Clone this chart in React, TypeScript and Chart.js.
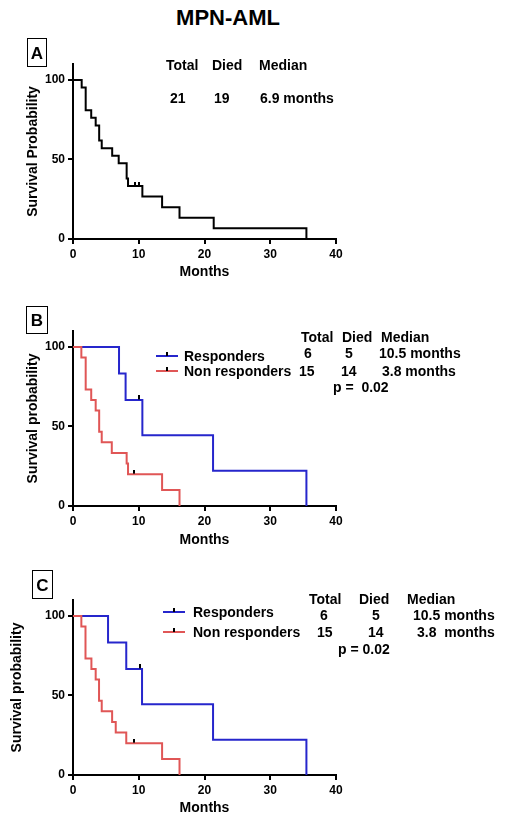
import React, { useEffect, useRef } from "react";
import { Chart, registerables } from "chart.js";
Chart.register(...registerables);

const FONT = "'Liberation Sans', Arial, Helvetica, sans-serif";
const BLUE = "#2626cc";
const RED = "#e05656";
const BLACK = "#000000";

const monthTicks = [0, 10, 20, 30, 40];
const survivalTicks = [0, 50, 100];

// Panel A – all patients
const allMonths = [0, 1.32, 1.93, 2.77, 3.45, 3.98, 4.37, 5.96, 6.95, 8.16, 8.37, 10.55, 13.55, 16.2, 21.4, 35.5];
const allSurvival = [100, 95.2, 81.0, 76.2, 71.4, 61.9, 57.1, 52.4, 47.6, 38.1, 33.3, 26.7, 20.0, 13.3, 6.7, 0];
const allCensorMonths = [9.4, 10.1];
const allCensorSurvival = [33.3, 33.3];

// Panel B
const respBMonths = [0, 7.0, 8.0, 10.55, 21.3, 35.5];
const respBSurvival = [100, 83.3, 66.7, 44.4, 22.2, 0];
const respBCensorMonths = [10.1];
const respBCensorSurvival = [66.7];
const nonBMonths = [0, 1.27, 1.93, 2.77, 3.45, 3.98, 4.37, 5.9, 8.16, 8.37, 13.55, 16.2];
const nonBSurvival = [100, 93.3, 73.3, 66.7, 60.0, 46.7, 40.0, 33.3, 26.7, 20.0, 10.0, 0];
const nonBCensorMonths = [9.24];
const nonBCensorSurvival = [20.0];

// Panel C
const respCMonths = [0, 5.33, 8.1, 10.5, 21.3, 35.5];
const respCSurvival = [100, 83.3, 66.7, 44.4, 22.2, 0];
const respCCensorMonths = [10.15];
const respCCensorSurvival = [66.7];
const nonCMonths = [0, 1.27, 1.9, 2.8, 3.45, 3.96, 4.37, 5.95, 6.5, 8.1, 13.55, 16.2];
const nonCSurvival = [100, 93.3, 73.3, 66.7, 60.0, 46.7, 40.0, 33.3, 26.7, 20.0, 10.0, 0];
const nonCCensorMonths = [9.3];
const nonCCensorSurvival = [20.0];

const CANVAS_W = 350;
const PLOT_LEFT = 73;
const PLOT_RIGHT = 336;

type Series = {
  months: number[];
  survival: number[];
  censorMonths: number[];
  censorSurvival: number[];
  color: string;
};

type PanelProps = {
  top: number;
  height: number;
  plotTop: number;
  plotBottom: number;
  yTitle: string;
  yTitlePad: number;
  xTitlePad: number;
  series: Series[];
};

function makeTick(): HTMLCanvasElement {
  const c = document.createElement("canvas");
  c.width = 2;
  c.height = 9;
  const ctx = c.getContext("2d")!;
  ctx.fillStyle = BLACK;
  ctx.fillRect(0, 0, 2, 4);
  return c;
}

function Panel(p: PanelProps) {
  const ref = useRef<HTMLCanvasElement>(null);
  useEffect(() => {
    const canvas = ref.current!;
    const tick = makeTick();
    const datasets: any[] = [];
    p.series.forEach((s) => {
      datasets.push({
        type: "scatter",
        data: s.censorMonths.map((m, i) => ({ x: m, y: s.censorSurvival[i] })),
        pointStyle: tick,
        pointRadius: 3,
        showLine: false,
        order: 0,
      });
      datasets.push({
        type: "line",
        data: s.months.map((m, i) => ({ x: m, y: s.survival[i] })),
        borderColor: s.color,
        borderWidth: 2,
        stepped: "before",
        pointRadius: 0,
        fill: false,
        order: 1,
      });
    });
    const tickFont = { family: FONT, size: 12, weight: "bold" as const };
    const titleFont = { family: FONT, size: 14, weight: "bold" as const };
    const chart = new Chart(canvas, {
      type: "line",
      data: { datasets },
      options: {
        animation: false,
        responsive: false,
        devicePixelRatio: 1,
        events: [],
        layout: {
          padding: { left: 0, right: CANVAS_W - PLOT_RIGHT, top: p.plotTop - p.top, bottom: 0 },
        },
        plugins: { legend: { display: false }, tooltip: { enabled: false } },
        scales: {
          x: {
            type: "linear",
            min: 0,
            max: 40,
            afterBuildTicks: (s: any) => {
              s.ticks = monthTicks.map((v) => ({ value: v }));
            },
            afterFit: (s: any) => {
              s.height = p.top + p.height - p.plotBottom;
            },
            ticks: { font: tickFont, color: BLACK, padding: 3, maxRotation: 0, autoSkip: false },
            grid: { drawOnChartArea: false, drawTicks: true, tickLength: 5, color: BLACK, lineWidth: 2 },
            border: { display: true, color: BLACK, width: 2 },
            title: { display: true, text: "Months", font: titleFont, color: BLACK, padding: { top: 0, bottom: p.xTitlePad } },
          },
          y: {
            type: "linear",
            min: 0,
            max: 110,
            afterBuildTicks: (s: any) => {
              s.ticks = survivalTicks.map((v) => ({ value: v }));
            },
            afterFit: (s: any) => {
              s.width = PLOT_LEFT;
            },
            ticks: { font: tickFont, color: BLACK, padding: 3 },
            grid: { drawOnChartArea: false, drawTicks: true, tickLength: 5, color: BLACK, lineWidth: 2 },
            border: { display: true, color: BLACK, width: 2 },
            title: { display: true, text: p.yTitle, font: titleFont, color: BLACK, padding: { top: p.yTitlePad, bottom: 0 } },
          },
        },
      } as any,
    });
    return () => chart.destroy();
  }, []);
  return (
    <canvas
      ref={ref}
      width={CANVAS_W}
      height={p.height}
      style={{ position: "absolute", left: 0, top: p.top, width: CANVAS_W, height: p.height }}
    />
  );
}

function Txt({ x, y, s, size = 14, center = false }: { x: number; y: number; s: string; size?: number; center?: boolean }) {
  return (
    <div
      style={{
        position: "absolute",
        left: x,
        top: y,
        transform: center ? "translate(-50%,-50%)" : "translateY(-50%)",
        font: `bold ${size}px ${FONT}`,
        lineHeight: `${size}px`,
        whiteSpace: "pre",
        color: BLACK,
      }}
    >
      {s}
    </div>
  );
}

function Box({ x, y, w, h, s }: { x: number; y: number; w: number; h: number; s: string }) {
  return (
    <div
      style={{
        position: "absolute",
        left: x,
        top: y,
        width: w,
        height: h,
        boxSizing: "border-box",
        border: "1.5px solid #000",
        display: "flex",
        alignItems: "center",
        justifyContent: "center",
        font: `bold 17px ${FONT}`,
        color: BLACK,
        paddingTop: 2,
      }}
    >
      {s}
    </div>
  );
}

function LegendRow({ x, y, color, label, textX }: { x: number; y: number; color: string; label: string; textX: number }) {
  return (
    <>
      <div style={{ position: "absolute", left: x, top: y - 1, width: 22, height: 2, background: color }} />
      <div style={{ position: "absolute", left: x + 10, top: y - 4, width: 2, height: 4, background: BLACK }} />
      <Txt x={textX} y={y} s={label} />
    </>
  );
}

export default function App() {
  return (
    <div style={{ position: "fixed", left: 0, top: 0, width: 512, height: 826, background: "#fff", overflow: "hidden" }}>
      <Panel
        top={40}
        height={250}
        plotTop={64}
        plotBottom={239}
        yTitle="Survival Probability"
        yTitlePad={24.6}
        xTitlePad={9.6}
        series={[
          { months: allMonths, survival: allSurvival, censorMonths: allCensorMonths, censorSurvival: allCensorSurvival, color: BLACK },
        ]}
      />
      <Panel
        top={300}
        height={250}
        plotTop={331}
        plotBottom={506}
        yTitle="Survival probability"
        yTitlePad={24.6}
        xTitlePad={1.6}
        series={[
          { months: nonBMonths, survival: nonBSurvival, censorMonths: nonBCensorMonths, censorSurvival: nonBCensorSurvival, color: RED },
          { months: respBMonths, survival: respBSurvival, censorMonths: respBCensorMonths, censorSurvival: respBCensorSurvival, color: BLUE },
        ]}
      />
      <Panel
        top={576}
        height={250}
        plotTop={600}
        plotBottom={775}
        yTitle="Survival probability"
        yTitlePad={8.6}
        xTitlePad={9.3}
        series={[
          { months: nonCMonths, survival: nonCSurvival, censorMonths: nonCCensorMonths, censorSurvival: nonCCensorSurvival, color: RED },
          { months: respCMonths, survival: respCSurvival, censorMonths: respCCensorMonths, censorSurvival: respCCensorSurvival, color: BLUE },
        ]}
      />

      <Txt x={228} y={18} s="MPN-AML" size={22} center />

      <Box x={27} y={38} w={20} h={29} s="A" />
      <Txt x={166} y={65} s="Total" />
      <Txt x={212} y={65} s="Died" />
      <Txt x={259} y={65} s="Median" />
      <Txt x={170} y={98} s="21" />
      <Txt x={214} y={98} s="19" />
      <Txt x={260} y={98} s="6.9 months" />

      <Box x={26} y={306} w={22} h={28} s="B" />
      <LegendRow x={156} y={356} color={BLUE} label="Responders" textX={184} />
      <LegendRow x={156} y={371} color={RED} label="Non responders" textX={184} />
      <Txt x={301} y={337} s="Total" />
      <Txt x={342} y={337} s="Died" />
      <Txt x={381} y={337} s="Median" />
      <Txt x={304} y={353} s="6" />
      <Txt x={345} y={353} s="5" />
      <Txt x={379} y={353} s="10.5 months" />
      <Txt x={299} y={370.5} s="15" />
      <Txt x={341} y={370.5} s="14" />
      <Txt x={382} y={370.5} s="3.8 months" />
      <Txt x={333} y={387} s="p =  0.02" />

      <Box x={32} y={570} w={21} h={29} s="C" />
      <LegendRow x={163} y={612} color={BLUE} label="Responders" textX={193} />
      <LegendRow x={163} y={632} color={RED} label="Non responders" textX={193} />
      <Txt x={309} y={599} s="Total" />
      <Txt x={359} y={599} s="Died" />
      <Txt x={407} y={599} s="Median" />
      <Txt x={320} y={614.5} s="6" />
      <Txt x={372} y={614.5} s="5" />
      <Txt x={413} y={614.5} s="10.5 months" />
      <Txt x={317} y={631.5} s="15" />
      <Txt x={368} y={631.5} s="14" />
      <Txt x={417} y={631.5} s="3.8  months" />
      <Txt x={338} y={648.5} s="p = 0.02" />
    </div>
  );
}
